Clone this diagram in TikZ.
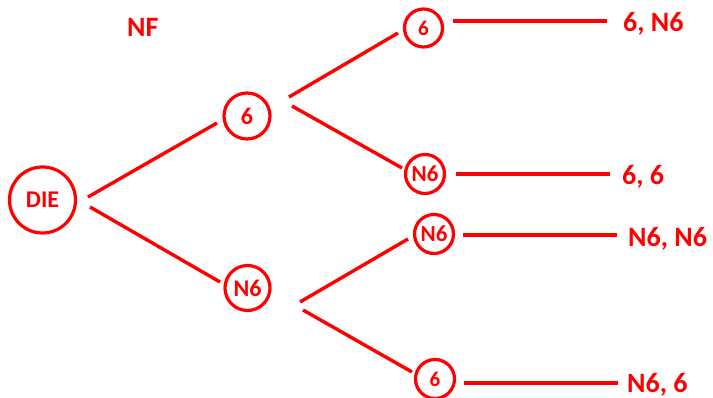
\documentclass[tikz,border=0pt]{standalone}
\usepackage{fontspec}
\setmainfont{Carlito}
\begin{document}
\begin{tikzpicture}[x=1pt,y=-1pt,
  every node/.style={text=red,font=\bfseries},
  circ/.style={draw=red,line width=3.2pt,circle,inner sep=0pt,minimum size=#1},
  lbl/.style={inner sep=0pt,anchor=base west,font=\fontsize{28}{28}\bfseries\selectfont},
  conn/.style={draw=red,line width=3.4pt}]
\useasboundingbox (0,0) rectangle (713,398);
\node[circ=66,font=\fontsize{24}{24}\bfseries\selectfont] (die) at (42.5,200) {DIE};
\node[circ=46,font=\fontsize{24}{24}\bfseries\selectfont] (a6) at (247,116) {6};
\node[circ=45,font=\fontsize{24}{24}\bfseries\selectfont] (aN6) at (247.5,288) {N6};
\node[circ=38,font=\fontsize{21}{21}\bfseries\selectfont] (b1) at (423.5,28) {6};
\node[circ=39,font=\fontsize{23}{23}\bfseries\selectfont] (b2) at (425,174) {N6};
\node[circ=39,font=\fontsize{23}{23}\bfseries\selectfont] (b3) at (434,234) {N6};
\node[circ=39,font=\fontsize{21}{21}\bfseries\selectfont] (b4) at (435,379) {6};
\node[lbl] (nf) at (127,37) {NF};
\node[lbl] (r1) at (623,32) {6, N6};
\node[lbl] (r2) at (622,185) {6, 6};
\node[lbl] (r3) at (628,247) {N6, N6};
\node[lbl] (r4) at (627,392) {N6, 6};
\draw[conn] ([shift={(45.5,-3)}]die.center) -- ([shift={(-30,7)}]a6.center);
\draw[conn] ([shift={(47.5,7)}]die.center) -- ([shift={(-27.5,-6)}]aN6.center);
\draw[conn] ([shift={(42,-19)}]a6.center) -- ([shift={(-25.5,5)}]b1.center);
\draw[conn] ([shift={(45,-10)}]a6.center) -- ([shift={(-23,-6)}]b2.center);
\draw[conn] ([shift={(52.5,14)}]aN6.center) -- ([shift={(-26,5)}]b3.center);
\draw[conn] ([shift={(55.5,22)}]aN6.center) -- ([shift={(-23,-7)}]b4.center);
\draw[conn] ([shift={(29.5,-7)}]b1.center) -- ([shift={(-16,-11)}]r1.base west);
\draw[conn] ([shift={(31,0)}]b2.center) -- ([shift={(-12,-11)}]r2.base west);
\draw[conn] ([shift={(29,1)}]b3.center) -- ([shift={(-11,-12)}]r3.base west);
\draw[conn] ([shift={(29,4)}]b4.center) -- ([shift={(-9,-9)}]r4.base west);
\end{tikzpicture}
\end{document}
